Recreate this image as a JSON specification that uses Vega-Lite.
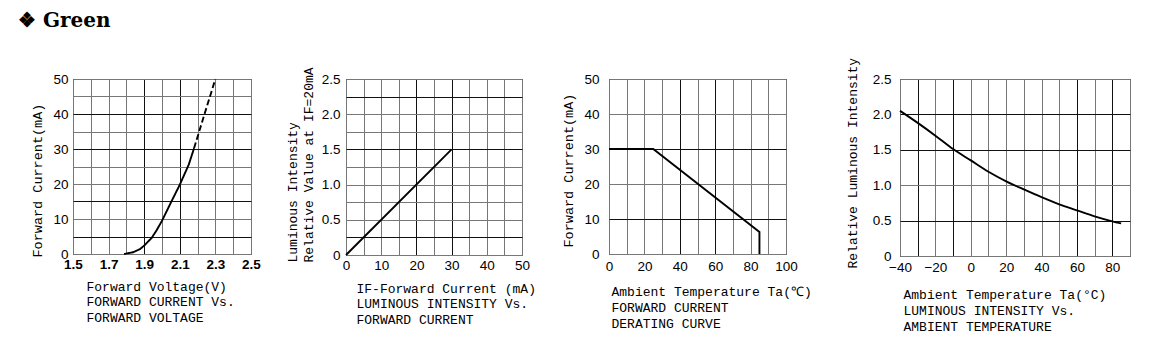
{
  "$schema": "https://vega.github.io/schema/vega-lite/v6.json",
  "autosize": "pad",
  "padding": {"left": 18, "top": 10, "right": 5, "bottom": 5},
  "background": "white",
  "title": {"text": "❖ Green", "anchor": "start", "frame": "group", "orient": "top", "offset": 10, "dx": -55, "baseline": "alphabetic", "font": "DejaVu Serif", "fontSize": 20, "fontWeight": "bold", "color": "black"},
  "datasets": {
    "iv": [
      {"v": 1.787, "c": 0, "seg": "solid"},
      {"v": 1.838, "c": 0.5, "seg": "solid"},
      {"v": 1.876, "c": 1.4, "seg": "solid"},
      {"v": 1.9, "c": 2.4, "seg": "solid"},
      {"v": 1.942, "c": 4.6, "seg": "solid"},
      {"v": 1.97, "c": 6.8, "seg": "solid"},
      {"v": 2.0, "c": 9.5, "seg": "solid"},
      {"v": 2.05, "c": 14.7, "seg": "solid"},
      {"v": 2.1, "c": 19.8, "seg": "solid"},
      {"v": 2.15, "c": 25.5, "seg": "solid"},
      {"v": 2.18, "c": 30.2, "seg": "solid"},
      {"v": 2.18, "c": 30.2, "seg": "dashed"},
      {"v": 2.242, "c": 40.5, "seg": "dashed"},
      {"v": 2.3, "c": 50, "seg": "dashed"}
    ],
    "li": [
      {"i": 0, "r": 0},
      {"i": 30, "r": 1.5}
    ],
    "der": [
      {"k": 1, "t": 0, "c": 30},
      {"k": 2, "t": 25, "c": 30},
      {"k": 3, "t": 85, "c": 6.3},
      {"k": 4, "t": 85, "c": 0}
    ],
    "temp": [
      {"t": -40, "r": 2.05},
      {"t": -30, "r": 1.88},
      {"t": -20, "r": 1.7},
      {"t": -10, "r": 1.51},
      {"t": 0, "r": 1.35},
      {"t": 10, "r": 1.19},
      {"t": 20, "r": 1.055},
      {"t": 30, "r": 0.94},
      {"t": 40, "r": 0.83},
      {"t": 50, "r": 0.73},
      {"t": 60, "r": 0.645},
      {"t": 70, "r": 0.56},
      {"t": 80, "r": 0.49},
      {"t": 85, "r": 0.46}
    ],
    "none": []
  },
  "config": {
    "view": {"stroke": "black", "strokeWidth": 1},
    "axis": {
      "ticks": false, "tickSize": 0, "domain": false,
      "grid": true, "gridColor": "#777", "gridOpacity": 1, "gridWidth": 1,
      "labelColor": "black", "labelFont": "Liberation Sans", "labelFontSize": 13.5,
      "labelFlush": false, "labelOverlap": false,
      "titleColor": "black", "titleFont": "Liberation Mono", "titleFontSize": 13, "titleFontWeight": "normal"
    },
    "axisX": {"titleAnchor": "start", "titleAlign": "left", "titleBaseline": "top", "titleLineHeight": 15.5, "titleAngle": 0},
    "axisY": {"titleAngle": -90, "titleAlign": "left", "titleBaseline": "top", "titleLineHeight": 16}
  },
  "bounds": "flush",
  "spacing": 0,
  "hconcat": [
    {
      "width": 178, "height": 175,
      "data": {"name": "iv"},
      "mark": {"type": "line", "color": "black", "strokeWidth": 1.9},
      "encoding": {
        "x": {"field": "v", "type": "quantitative",
          "scale": {"domain": [1.5, 2.5], "nice": false, "zero": false},
          "axis": {"values": [1.5, 1.6, 1.7, 1.8, 1.9, 2.0, 2.1, 2.2, 2.3, 2.4, 2.5],
            "labelExpr": "round(datum.value*10) % 2 == 1 ? format(datum.value, '.1f') : ''",
            "labelFontWeight": "bold", "labelFontSize": 13.5, "labelPadding": 3,
            "gridColor": {"condition": {"test": "round(datum.value*10) == 19 || round(datum.value*10) == 21", "value": "#111"}, "value": "#777"},
            "title": ["Forward Voltage(V)", "FORWARD CURRENT Vs.", "FORWARD VOLTAGE"],
            "titleX": 13, "titleY": 26}},
        "y": {"field": "c", "type": "quantitative",
          "scale": {"domain": [0, 50], "nice": false},
          "axis": {"values": [0, 5, 10, 15, 20, 25, 30, 35, 40, 45, 50],
            "labelExpr": "datum.value % 10 == 0 ? datum.label : ''",
            "labelPadding": 5,
            "gridColor": {"condition": {"test": "datum.value == 5 || datum.value == 15 || datum.value == 30 || datum.value == 40", "value": "#111"}, "value": "#777"},
            "title": "Forward Current(mA)", "titleFontSize": 13.5, "titleX": -43, "titleY": 178}},
        "strokeDash": {"field": "seg", "type": "nominal",
          "scale": {"domain": ["solid", "dashed"], "range": [[1, 0], [6, 3]]}, "legend": null}
      }
    },
    {
      "width": 95, "height": 175, "view": {"stroke": null},
      "data": {"name": "none"}, "mark": "point"
    },
    {
      "width": 176, "height": 176,
      "data": {"name": "li"},
      "mark": {"type": "line", "color": "black", "strokeWidth": 1.9},
      "encoding": {
        "x": {"field": "i", "type": "quantitative",
          "scale": {"domain": [0, 50], "nice": false},
          "axis": {"values": [0, 5, 10, 15, 20, 25, 30, 35, 40, 45, 50],
            "labelExpr": "datum.value % 10 == 0 ? datum.label : ''",
            "labelPadding": 3,
            "gridColor": {"condition": {"test": "datum.value == 20 || datum.value == 30", "value": "#111"}, "value": "#777"},
            "title": ["IF-Forward Current (mA)", "LUMINOUS INTENSITY Vs.", "FORWARD CURRENT"],
            "titleX": 10, "titleY": 27}},
        "y": {"field": "r", "type": "quantitative",
          "scale": {"domain": [0, 2.5], "nice": false},
          "axis": {"values": [0, 0.25, 0.5, 0.75, 1, 1.25, 1.5, 1.75, 2, 2.25, 2.5],
            "labelExpr": "round(datum.value*4) % 2 == 0 ? (datum.value == 0 ? '0' : format(datum.value, '.1f')) : ''",
            "labelPadding": 6,
            "gridColor": {"condition": {"test": "datum.value == 0.25 || datum.value == 1.5 || datum.value == 2.25", "value": "#111"}, "value": "#777"},
            "title": ["Luminous Intensity", "Relative Value at IF=20mA"], "titleX": -59.5, "titleY": 183}}
      }
    },
    {
      "width": 87, "height": 175, "view": {"stroke": null},
      "data": {"name": "none"}, "mark": "point"
    },
    {
      "width": 177, "height": 175,
      "data": {"name": "der"},
      "mark": {"type": "line", "color": "black", "strokeWidth": 1.9},
      "encoding": {
        "x": {"field": "t", "type": "quantitative",
          "scale": {"domain": [0, 100], "nice": false},
          "axis": {"values": [0, 10, 20, 30, 40, 50, 60, 70, 80, 90, 100],
            "labelExpr": "datum.value % 20 == 0 ? datum.label : ''",
            "labelPadding": 5,
            "gridColor": {"condition": {"test": "datum.value == 40 || datum.value == 60", "value": "#111"}, "value": "#777"},
            "title": ["Ambient Temperature Ta(℃)", "FORWARD CURRENT", "DERATING CURVE"],
            "titleX": 2, "titleY": 31, "titleLineHeight": 16}},
        "y": {"field": "c", "type": "quantitative",
          "scale": {"domain": [0, 50], "nice": false},
          "axis": {"values": [0, 10, 20, 30, 40, 50],
            "labelPadding": 10,
            "gridColor": {"condition": {"test": "datum.value == 10 || datum.value == 30", "value": "#111"}, "value": "#777"},
            "title": "Forward Current(mA)", "titleFontSize": 13.5, "titleX": -47.5, "titleY": 168}},
        "order": {"field": "k", "type": "quantitative"}
      }
    },
    {
      "width": 114, "height": 175, "view": {"stroke": null},
      "data": {"name": "none"}, "mark": "point"
    },
    {
      "width": 230, "height": 177,
      "data": {"name": "temp"},
      "mark": {"type": "line", "color": "black", "strokeWidth": 1.9, "interpolate": "monotone"},
      "encoding": {
        "x": {"field": "t", "type": "quantitative",
          "scale": {"domain": [-40, 90], "nice": false, "zero": false},
          "axis": {"values": [-40, -30, -20, -10, 0, 10, 20, 30, 40, 50, 60, 70, 80, 90],
            "labelExpr": "(datum.value % 20 == 0 && datum.value <= 80) ? datum.label : ''",
            "labelPadding": 4,
            "gridColor": {"condition": {"test": "datum.value == -30 || datum.value == -10 || datum.value == 60 || datum.value == 80", "value": "#111"}, "value": "#777"},
            "title": ["Ambient Temperature Ta(°C)", "LUMINOUS INTENSITY Vs.", "AMBIENT TEMPERATURE"],
            "titleX": 3, "titleY": 32, "titleLineHeight": 16}},
        "y": {"field": "r", "type": "quantitative",
          "scale": {"domain": [0, 2.5], "nice": false},
          "axis": {"values": [0, 0.5, 1, 1.5, 2, 2.5],
            "labelExpr": "datum.value == 0 ? '0' : format(datum.value, '.1f')",
            "labelPadding": 9,
            "gridColor": {"condition": {"test": "datum.value == 0.5 || datum.value == 1.5 || datum.value == 2", "value": "#111"}, "value": "#777"},
            "title": "Relative Luminous Intensity", "titleX": -53.5, "titleY": 189}}
      }
    }
  ]
}
